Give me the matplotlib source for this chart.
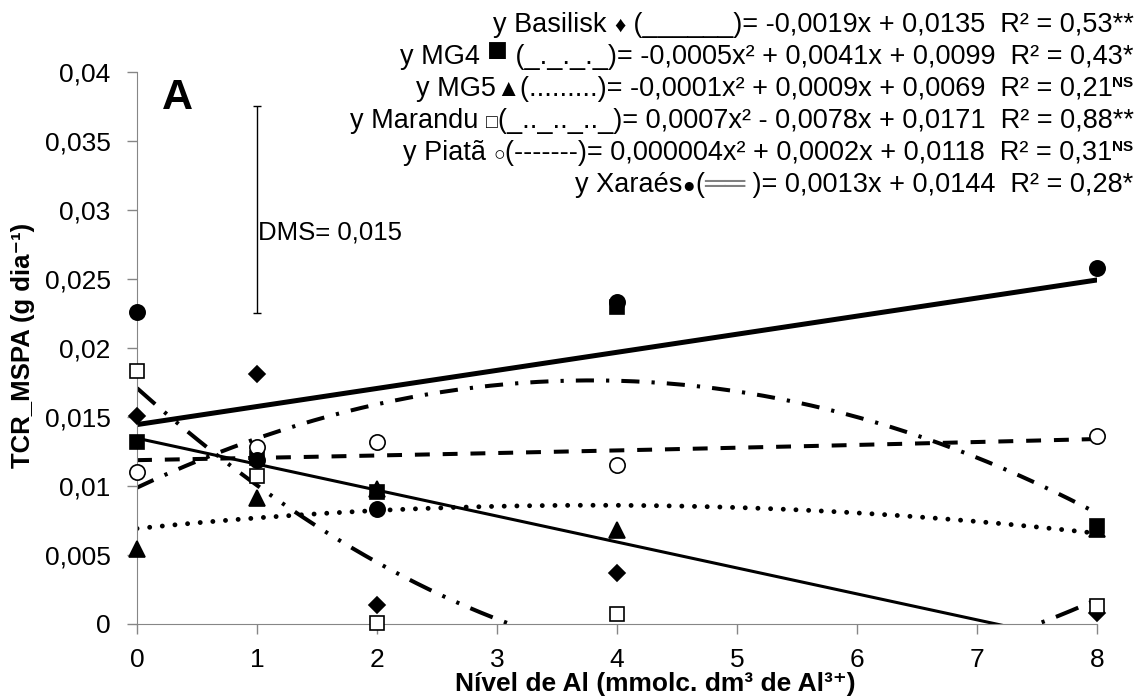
import numpy as np
import matplotlib
matplotlib.use('Agg')
import matplotlib.pyplot as plt

plt.rcParams['font.family'] = ['Liberation Sans', 'DejaVu Sans']

# Data
x_al = [0, 1, 2, 4, 8]
basilisk = [0.0151, 0.0181, 0.0014, 0.0037, 0.0008]
mg4 = [0.0132, 0.0120, 0.0096, 0.0230, 0.0071]
mg5 = [0.0054, 0.0091, 0.0098, 0.0068, 0.0069]
marandu = [0.0183, 0.0107, 0.0001, 0.0007, 0.0013]
piata = [0.0110, 0.0128, 0.0132, 0.0115, 0.0136]
xaraes = [0.0226, 0.0119, 0.0083, 0.0233, 0.0258]

y_ticks = [0, 0.005, 0.01, 0.015, 0.02, 0.025, 0.03, 0.035, 0.04]
y_ticklabels = ['0', '0,005', '0,01', '0,015', '0,02', '0,025', '0,03', '0,035', '0,04']
dms = 0.015

eq_rows = [
    [('y Basilisk ', {}), ('♦', {'fontsize': 16}),
     (' (______)= -0,0019x + 0,0135  R² = 0,53**', {})],
    [('y MG4 ', {}), ('■', {'fontsize': 25, 'dy': 3}),
     (' (_._._._)= -0,0005x² + 0,0041x + 0,0099  R² = 0,43*', {})],
    [('y MG5', {}), ('▲', {'fontsize': 17}),
     ('(.........)= -0,0001x² + 0,0009x + 0,0069  R² = 0,21', {}),
     ('NS', {'fontsize': 11, 'fontweight': 'bold', 'dy': 9})],
    [('y Marandu ', {}), ('□', {'fontsize': 14}),
     ('(_.._.._.._)= 0,0007x² - 0,0078x + 0,0171  R² = 0,88**', {})],
    [('y Piatã ', {}), ('○', {'fontsize': 14}),
     ('(-------)= 0,000004x² + 0,0002x + 0,0118  R² = 0,31', {}),
     ('NS', {'fontsize': 11, 'fontweight': 'bold', 'dy': 9})],
    [('y Xaraés', {}), ('●', {'fontsize': 15}), ('(', {}),
     ('══', {'color': '#808080', 'fontsize': 21}),
     (' )= 0,0013x + 0,0144  R² = 0,28*', {})],
]

# name, values, degree, marker, size, face, line width, line style
series = [
    ('Basilisk', basilisk, 1, 'D', 8.5, 'black', 2.2, '-'),
    ('MG4', mg4, 2, 's', 10, 'black', 2.9, (0, (4.5, 3, 0.8, 3))),
    ('MG5', mg5, 2, '^', 11, 'black', 3.5, (0, (0.01, 2.6))),
    ('Marandu', marandu, 2, 's', 10, 'white', 2.9, (0, (6, 3, 0.8, 3, 0.8, 3))),
    ('Piata', piata, 2, 'o', 11, 'white', 2.9, (0, (3.7, 3.2))),
    ('Xaraes', xaraes, 1, 'o', 11, 'black', 3.6, '-'),
]

fig = plt.figure(figsize=(11.41, 6.99), dpi=100)
ax = fig.add_axes([0.1201, 0.1073, 0.8414, 0.7897])

xs = np.linspace(0, 8, 300)
for name, vals, deg, mk, ms, fc, lw, ls in series:
    coef = np.polyfit(x_al, vals, deg)
    ax.plot(xs, np.polyval(coef, xs), color='black', lw=lw, linestyle=ls,
            dash_capstyle='round' if name == 'MG5' else 'butt', zorder=2)
for name, vals, deg, mk, ms, fc, lw, ls in series:
    ax.plot(x_al, vals, linestyle='none', marker=mk, ms=ms, mfc=fc,
            mec='black', mew=1.2, clip_on=False, zorder=3)

# DMS bar
ax.errorbar(1, 0.0225 + dms / 2, yerr=dms / 2, color='black', lw=1,
            capsize=3, capthick=1)
ax.text(1.01, 0.0284, 'DMS= 0,015', fontsize=18.5, va='center', ha='left')
ax.text(0.026, 0.953, 'A', transform=ax.transAxes, fontsize=31,
        fontweight='bold', va='center', ha='left')

ax.set_xlim(0, 8)
ax.set_ylim(0, 0.04)
ax.set_xticks(range(9))
ax.set_yticks(y_ticks)
ax.set_yticklabels(y_ticklabels)
ax.tick_params(axis='both', direction='out', length=7, width=1,
               color='#868686', labelsize=19)
ax.tick_params(axis='y', pad=12)
ax.tick_params(axis='x', pad=10)
for side in ['top', 'right']:
    ax.spines[side].set_visible(False)
for side in ['left', 'bottom']:
    ax.spines[side].set_color('#868686')

ax.set_xlabel('Nível de Al (mmolc. dm³ de Al³⁺)', fontsize=19,
              fontweight='bold', ha='left')
ax.xaxis.set_label_coords(0.331, -0.087)
ax.set_ylabel('TCR_MSPA (g dia⁻¹)', fontsize=18.5, fontweight='bold')
ax.yaxis.set_label_coords(-0.106, 0.504)

# equations, built right to left so each line ends at the same x
row_px = 22
for row in eq_rows:
    y_base = 1 - (row_px + 10) / 699
    anchor = None
    for text, kw in reversed(row):
        kw = dict(kw)
        dy = kw.pop('dy', 0) / 699
        kw.setdefault('fontsize', 19.5)
        if anchor is None:
            t = fig.text(0.9935, y_base + dy, text, ha='right', va='baseline', **kw)
        else:
            t = ax.annotate(text, xy=(0, y_base + dy),
                            xycoords=(anchor, 'figure fraction'),
                            ha='right', va='baseline', annotation_clip=False, **kw)
        anchor = t
    row_px += 32

fig.savefig('out.png', dpi=100)
